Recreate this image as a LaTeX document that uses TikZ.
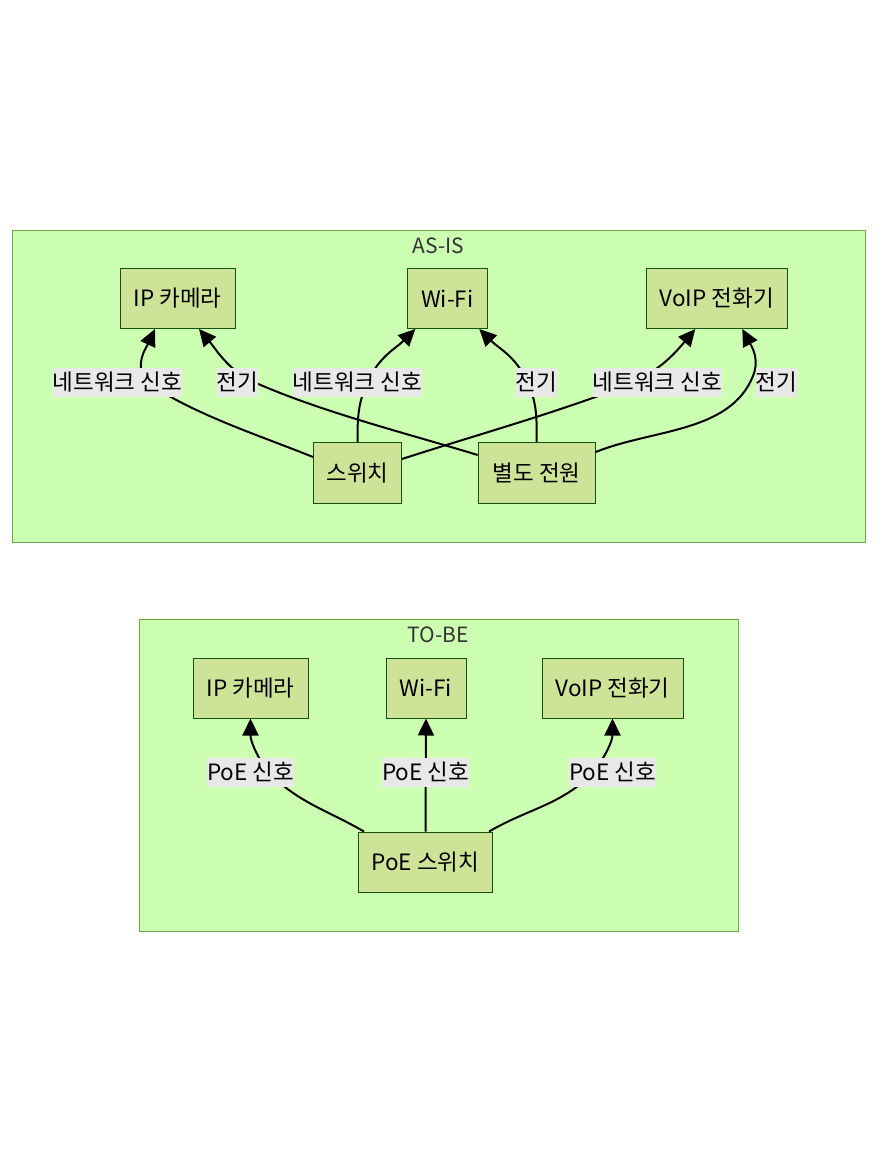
\documentclass[tikz,border=0pt]{standalone}
\usepackage{fontspec}
\setmainfont{Noto Sans CJK KR}
\usetikzlibrary{arrows.meta}
\definecolor{nodefill}{HTML}{CDE498}
\definecolor{nodeline}{HTML}{13540C}
\definecolor{groupfill}{HTML}{CDFFB2}
\definecolor{groupline}{HTML}{6EAA49}
\definecolor{labelfill}{HTML}{E8E8E8}
\definecolor{titletext}{HTML}{333333}
\begin{document}
\begin{tikzpicture}[x=1pt,y=1pt,
  box/.style={draw=nodeline,fill=nodefill,line width=1pt,minimum height=60pt,inner xsep=0pt,font=\fontsize{22.5}{26}\selectfont},
  group/.style={draw=groupline,fill=groupfill,line width=1pt},
  grouptitle/.style={text=titletext,anchor=base,font=\fontsize{21}{24}\selectfont},
  lbl/.style={fill=labelfill,inner xsep=0pt,inner ysep=0pt,minimum height=29pt,font=\fontsize{22.5}{26}\selectfont},
  flow/.style={line width=2pt,-{Triangle[length=17pt,width=16pt]}}]
\useasboundingbox (0,0) rectangle (878,-1161);

% AS-IS
\draw[group] (12,-230) rectangle (865,-542);
\node[grouptitle] (asis) at (438.5,-253) {AS-IS};
\node[box,minimum width=115pt] (cam1) at (177.5,-298.5) {IP 카메라};
\node[box,minimum width=80pt] (wifi1) at (447.3,-298.5) {Wi-Fi};
\node[box,minimum width=141pt] (voip1) at (716.8,-298.5) {VoIP 전화기};
\node[box,minimum width=88pt,minimum height=61pt] (sw1) at (357.5,-473) {스위치};
\node[box,minimum width=117pt,minimum height=61pt] (pw1) at (536.7,-473) {별도 전원};

\coordinate (v1) at (145,-381);
\coordinate (v2) at (245,-378);
\coordinate (v3) at (368,-381);
\coordinate (v4) at (527,-381);
\coordinate (v5) at (635,-382);
\coordinate (v6) at (753,-376);

\draw[flow] ([yshift=16]sw1.west) to[out=158,in=-35,looseness=0.8] (v1) to[out=120,in=-115] ([xshift=-22.5]cam1.south);
\draw[flow] ([yshift=18]pw1.west) to[out=163,in=-25,looseness=0.8] (v2) to[out=145,in=-50] ([xshift=21.5]cam1.south);
\draw[flow] (sw1.north) to[out=90,in=-115] (v3) to[out=65,in=-135] ([xshift=-32]wifi1.south);
\draw[flow] (pw1.north) to[out=90,in=-65] (v4) to[out=115,in=-45] ([xshift=32]wifi1.south);
\draw[flow] ([yshift=14]sw1.east) to[out=18,in=-158,looseness=0.8] (v5) to[out=28,in=-130] ([xshift=-21.5]voip1.south);
\draw[flow] ([yshift=21]pw1.east) to[out=22,in=-112,looseness=0.9] (v6) to[out=68,in=-62] ([xshift=25.5]voip1.south);

\node[lbl] (l1) at (117.5,-382.5) {네트워크 신호};
\node[lbl] (l2) at (237.5,-382.5) {전기};
\node[lbl] (l3) at (357.5,-382.5) {네트워크 신호};
\node[lbl] (l4) at (536.5,-382.5) {전기};
\node[lbl] (l5) at (657.5,-382.5) {네트워크 신호};
\node[lbl] (l6) at (776.5,-382.5) {전기};

% TO-BE
\draw[group] (139,-619) rectangle (738,-931);
\node[grouptitle] (tobe) at (438.5,-642) {TO-BE};
\node[box,minimum width=115pt] (cam2) at (250.5,-688) {IP 카메라};
\node[box,minimum width=80pt] (wifi2) at (426,-688) {Wi-Fi};
\node[box,minimum width=141pt] (voip2) at (612.5,-688) {VoIP 전화기};
\node[box,minimum width=134pt] (psw) at (425.5,-862) {PoE 스위치};

\coordinate (w1) at (268,-772);
\coordinate (w3) at (594,-772);

\draw[flow] ([xshift=6]psw.north west) to[out=150,in=-45] (w1) to[out=125,in=-90] (cam2.south);
\draw[flow] (psw.north) -- (wifi2.south);
\draw[flow] ([xshift=-4]psw.north east) to[out=30,in=-135] (w3) to[out=55,in=-90] (voip2.south);

\node[lbl] (p1) at (250.5,-772) {PoE 신호};
\node[lbl] (p2) at (425.5,-772) {PoE 신호};
\node[lbl] (p3) at (612.5,-772) {PoE 신호};
\end{tikzpicture}
\end{document}
